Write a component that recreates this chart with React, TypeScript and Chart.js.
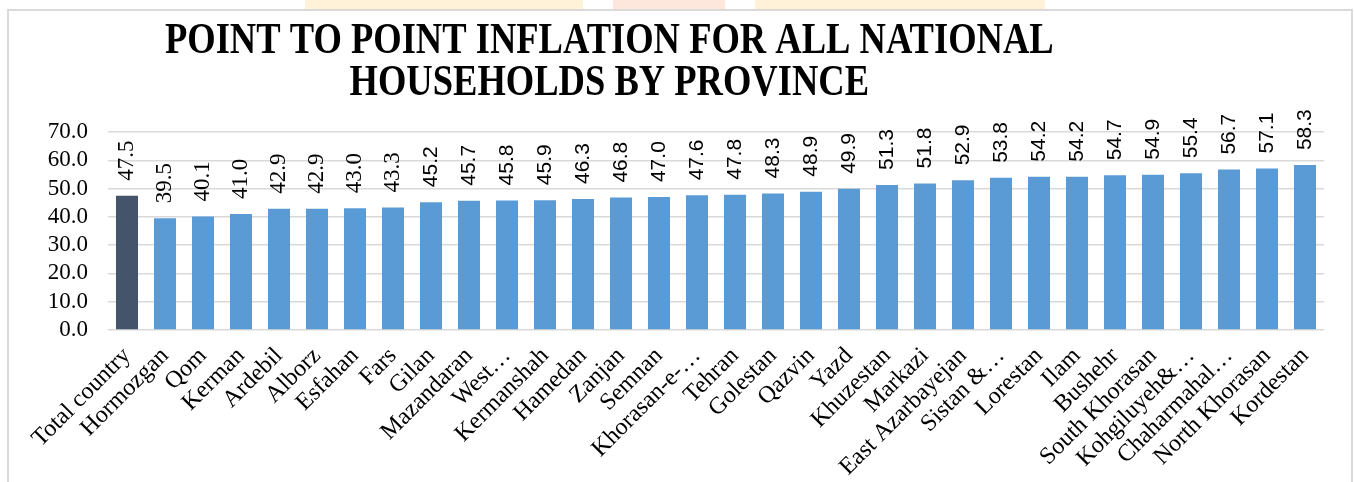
import React, { useEffect, useRef } from "react";
import { Chart, registerables } from "chart.js";

Chart.register(...registerables);

const TITLE_LINES = ["POINT TO POINT INFLATION FOR ALL NATIONAL", "HOUSEHOLDS BY PROVINCE"];

const categories = [
  "Total country", "Hormozgan", "Qom", "Kerman", "Ardebil", "Alborz", "Esfahan", "Fars",
  "Gilan", "Mazandaran", "West…", "Kermanshah", "Hamedan", "Zanjan", "Semnan", "Khorasan-e-…",
  "Tehran", "Golestan", "Qazvin", "Yazd", "Khuzestan", "Markazi", "East Azarbayejan", "Sistan &…",
  "Lorestan", "Ilam", "Bushehr", "South Khorasan", "Kohgiluyeh&…", "Chaharmahal…", "North Khorasan", "Kordestan",
];

const inflation = [
  47.5, 39.5, 40.1, 41.0, 42.9, 42.9, 43.0, 43.3,
  45.2, 45.7, 45.8, 45.9, 46.3, 46.8, 47.0, 47.6,
  47.8, 48.3, 48.9, 49.9, 51.3, 51.8, 52.9, 53.8,
  54.2, 54.2, 54.7, 54.9, 55.4, 56.7, 57.1, 58.3,
];

const yTicks = [0, 10, 20, 30, 40, 50, 60, 70];

const TOTAL_COLOR = "#44546a";
const PROVINCE_COLOR = "#5b9bd5";
const SERIF = "'Liberation Serif', 'Times New Roman', serif";
const SANS = "'Liberation Sans', Arial, sans-serif";

const titlePlugin = {
  id: "customTitle",
  afterDraw(chart: any) {
    const ctx = chart.ctx;
    ctx.save();
    ctx.fillStyle = "#000";
    ctx.font = `bold 44px ${SERIF}`;
    ctx.textAlign = "center";
    ctx.textBaseline = "alphabetic";
    const cx = chart.width * 0.45;
    TITLE_LINES.forEach((line, i) => {
      ctx.save();
      ctx.translate(cx, 53 + i * 42);
      ctx.scale(0.83, 1);
      ctx.fillText(line, 0, 0);
      ctx.restore();
    });
    ctx.restore();
  },
};

const valueLabelPlugin = {
  id: "valueLabels",
  afterDatasetsDraw(chart: any) {
    const ctx = chart.ctx;
    const meta = chart.getDatasetMeta(0);
    ctx.save();
    ctx.fillStyle = "#000";
    ctx.textAlign = "left";
    ctx.textBaseline = "middle";
    meta.data.forEach((bar: any, i: number) => {
      const v = inflation[i];
      ctx.save();
      ctx.font = i < 8 ? `23px ${SERIF}` : `21px ${SANS}`;
      ctx.translate(bar.x, bar.y - 15);
      ctx.rotate(-Math.PI / 2);
      ctx.fillText(v.toFixed(1), 0, 0);
      ctx.restore();
    });
    ctx.restore();
  },
};

export default function App() {
  const canvasRef = useRef<HTMLCanvasElement | null>(null);

  useEffect(() => {
    if (!canvasRef.current) return;
    const chart = new Chart(canvasRef.current, {
      type: "bar",
      data: {
        labels: categories,
        datasets: [
          {
            data: inflation,
            backgroundColor: inflation.map((_, i) => (i === 0 ? TOTAL_COLOR : PROVINCE_COLOR)),
            borderWidth: 0,
            categoryPercentage: 1,
            barPercentage: 0.58,
          },
        ],
      },
      options: {
        responsive: false,
        animation: false,
        devicePixelRatio: 1,
        layout: { padding: { top: 132, right: 30, left: 0, bottom: 0 } },
        plugins: {
          legend: { display: false },
          title: { display: false },
          tooltip: { enabled: false },
        },
        scales: {
          x: {
            grid: { display: false },
            border: { display: false },
            ticks: {
              autoSkip: false,
              maxRotation: 45,
              minRotation: 45,
              padding: 4,
              color: "#000",
              font: { family: SERIF, size: 24 },
            },
            afterFit(scale: any) {
              scale.height = 152;
            },
          },
          y: {
            min: 0,
            max: 70,
            afterBuildTicks(scale: any) {
              scale.ticks = yTicks.map((v) => ({ value: v }));
            },
            grid: { color: "#d9d9d9", lineWidth: 1.5, drawTicks: false },
            border: { display: false },
            ticks: {
              autoSkip: false,
              padding: 20,
              color: "#000",
              font: { family: SERIF, size: 23 },
              callback: (v: any) => Number(v).toFixed(1),
            },
            afterFit(scale: any) {
              scale.width = 108;
            },
          },
        },
      },
      plugins: [titlePlugin, valueLabelPlugin],
    });
    return () => chart.destroy();
  }, []);

  return (
    <div style={{ position: "absolute", left: 0, top: 0, width: 1354, height: 482, overflow: "hidden", background: "#fff" }}>
      <div style={{ position: "absolute", left: 305, top: 0, width: 278, height: 9, background: "#fff2d8" }} />
      <div style={{ position: "absolute", left: 613, top: 0, width: 112, height: 9, background: "#fde7dc" }} />
      <div style={{ position: "absolute", left: 755, top: 0, width: 290, height: 9, background: "#fff2d8" }} />
      <div
        style={{
          position: "absolute",
          left: 7,
          top: 9,
          width: 1346,
          height: 500,
          boxSizing: "border-box",
          border: "2px solid #dadada",
        }}
      />
      <canvas ref={canvasRef} width={1354} height={482} style={{ position: "absolute", left: 0, top: 0, width: 1354, height: 482 }} />
    </div>
  );
}
